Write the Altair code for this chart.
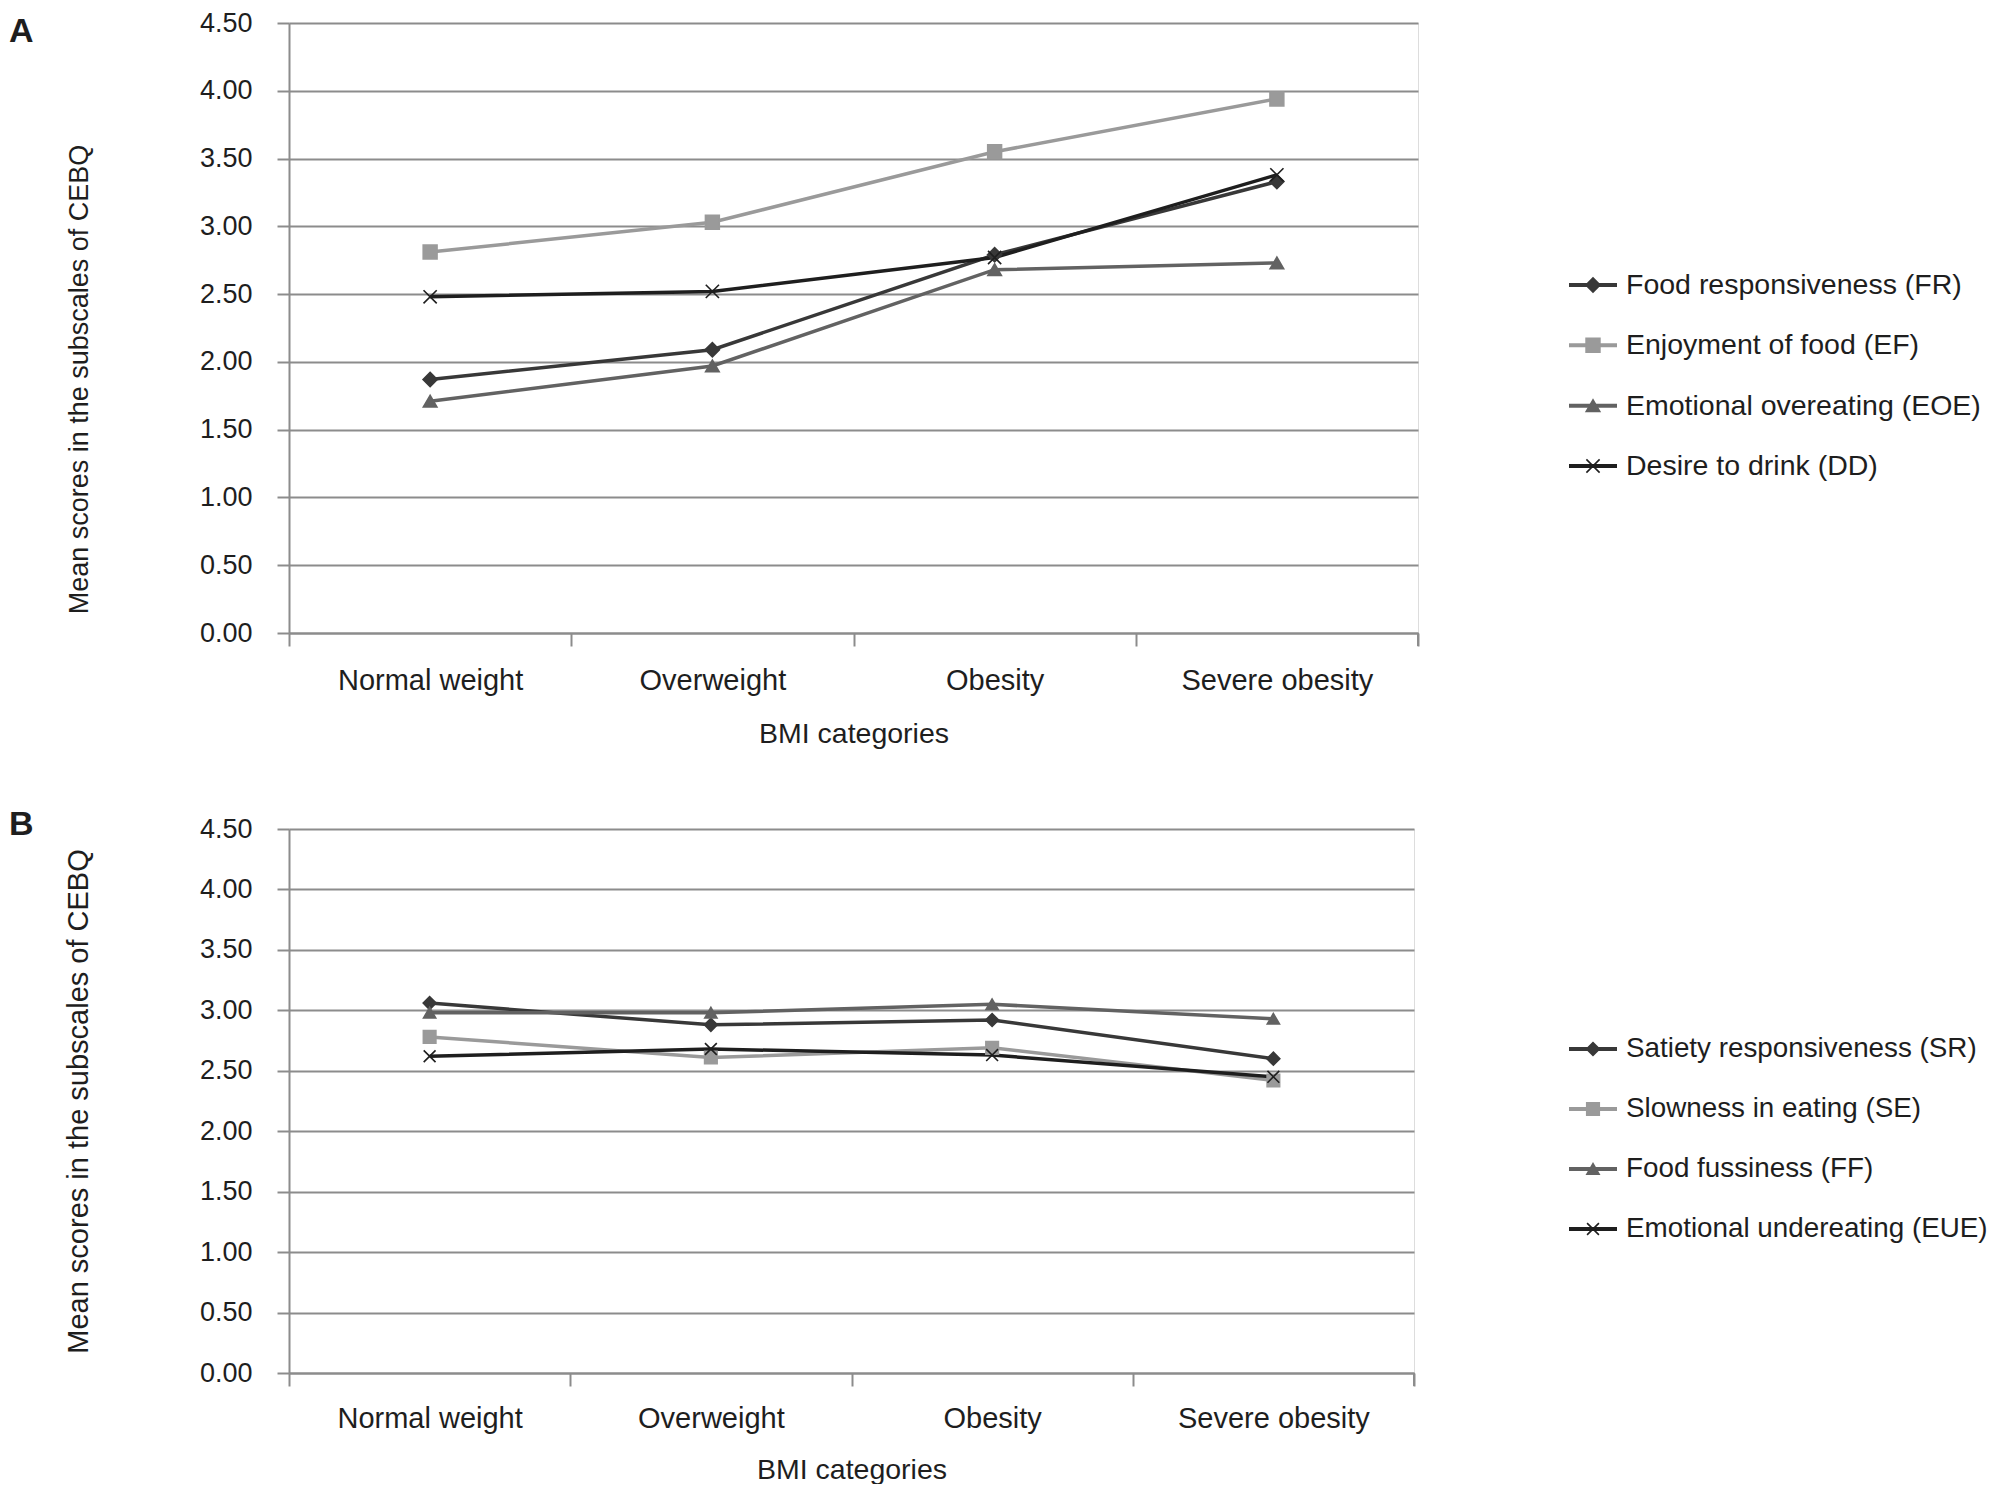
import altair as alt
import pandas as pd

# ---------------- data ----------------
categories = ["Normal weight", "Overweight", "Obesity", "Severe obesity"]

series_a = ["Food responsiveness (FR)", "Enjoyment of food (EF)",
            "Emotional overeating (EOE)", "Desire to drink (DD)"]
fr = [1.87, 2.09, 2.79, 3.33]
ef = [2.81, 3.03, 3.55, 3.94]
eoe = [1.71, 1.97, 2.68, 2.73]
dd = [2.48, 2.52, 2.77, 3.38]

series_b = ["Satiety responsiveness (SR)", "Slowness in eating (SE)",
            "Food fussiness (FF)", "Emotional undereating (EUE)"]
sr = [3.06, 2.88, 2.92, 2.60]
se = [2.78, 2.61, 2.69, 2.42]
ff = [2.98, 2.98, 3.05, 2.93]
eue = [2.62, 2.68, 2.63, 2.45]

y_ticks = [0, 0.5, 1.0, 1.5, 2.0, 2.5, 3.0, 3.5, 4.0, 4.5]
y_title = "Mean scores in the subscales of CEBQ"
x_title = "BMI categories"

# ---------------- styles ----------------
colors = ["#383838", "#9a9a9a", "#626262", "#1e1e1e"]
shapes = ["diamond", "square", "triangle-up", "M-1,-1L1,1M1,-1L-1,1"]
sizes = [200, 140, 170, 150]
gray = "#8c8c8c"
txt = "#1e1e1e"
FONT = "Liberation Sans"


def panel(series, vals, W, H, legend_range, legend_font, letter, letter_x, letter_y,
          ytitle_size, x_label_pad, x_title_pad, title_y=None):
    rows = []
    for s, v in zip(series, vals):
        for i, (c, val) in enumerate(zip(categories, v)):
            rows.append({"category": c, "series": s, "value": val, "idx": i})
    df = pd.DataFrame(rows)
    leg = pd.DataFrame({"series": series})

    color = alt.Color("series:N", scale=alt.Scale(domain=series, range=colors), legend=None)
    stroke = alt.Stroke("series:N", scale=alt.Scale(domain=series, range=colors), legend=None)
    shape = alt.Shape("series:N", scale=alt.Scale(domain=series, range=shapes), legend=None)
    size = alt.Size("series:N", scale=alt.Scale(domain=series, range=sizes), legend=None)

    xenc = alt.X(
        "category:N", sort=categories,
        scale=alt.Scale(domain=categories, paddingInner=0, paddingOuter=0),
        axis=alt.Axis(title=x_title, labelAngle=0, tickBand="extent", tickSize=13,
                      labelPadding=x_label_pad, titlePadding=x_title_pad, labelFontSize=29,
                      labelLimit=500, titleFontSize=28.5, labelColor=txt, titleColor=txt,
                      titleFontWeight="normal", domainColor=gray, domainWidth=2,
                      tickColor=gray, tickWidth=2, grid=False, labelFont=FONT,
                      titleFont=FONT),
    )
    yaxis_kw = dict(title=y_title, values=y_ticks, format=".2f", tickSize=12,
                    labelPadding=25, titlePadding=106, labelFontSize=27,
                    titleFontSize=ytitle_size, labelColor=txt, titleColor=txt,
                    titleFontWeight="normal", gridColor=gray, gridWidth=2,
                    domainColor=gray, domainWidth=2, tickColor=gray, tickWidth=2,
                    labelFont=FONT, titleFont=FONT)
    if title_y is not None:
        yaxis_kw["titleY"] = title_y
    yscale = alt.Scale(domain=[0, 4.5], nice=False, zero=True)

    lines = alt.Chart(df).mark_line(strokeWidth=3.5).encode(
        x=xenc,
        y=alt.Y("value:Q", scale=yscale, axis=alt.Axis(**yaxis_kw)),
        color=color,
        order="idx:Q",
    )
    points = alt.Chart(df).mark_point(filled=True, opacity=1, strokeWidth=1.6).encode(
        x=xenc,
        y=alt.Y("value:Q", scale=yscale, axis=None),
        color=color, stroke=stroke, shape=shape, size=size,
    )

    leg_y = alt.Y("series:N", axis=None,
                  scale=alt.Scale(type="point", domain=series, range=legend_range, padding=0))
    leg_rule = alt.Chart(leg).mark_rule(strokeWidth=4).encode(
        x=alt.value(1280), x2=alt.value(1328), y=leg_y,
        color=color,
    )
    leg_pts = alt.Chart(leg).mark_point(filled=True, opacity=1, strokeWidth=1.6).encode(
        x=alt.value(1304), y=leg_y, color=color, stroke=stroke, shape=shape, size=size,
    )
    leg_txt = alt.Chart(leg).mark_text(align="left", baseline="middle", fontSize=legend_font,
                                       color=txt, font=FONT).encode(
        x=alt.value(1337), y=leg_y, text="series:N",
    )

    letter_df = pd.DataFrame({"letter": [letter]})
    letter_mark = alt.Chart(letter_df).mark_text(
        align="left", baseline="middle", fontSize=34, fontWeight="bold",
        color=txt, font=FONT).encode(
        x=alt.value(letter_x), y=alt.value(letter_y), text="letter:N")

    end_tick = alt.Chart(letter_df).mark_rule(color=gray, strokeWidth=2).encode(
        x=alt.value(W), y=alt.value(H), y2=alt.value(H + 13))

    return alt.layer(lines, points, leg_rule, leg_pts, leg_txt, letter_mark, end_tick).resolve_scale(
        y="independent"
    ).properties(width=W, height=H)


chart_a = panel(series_a, [fr, ef, eoe, dd], W=1129, H=610,
                legend_range=[262, 443], legend_font=28.5, letter="A",
                letter_x=-280, letter_y=9, ytitle_size=27,
                x_label_pad=20, x_title_pad=24, title_y=356)
chart_b = panel(series_b, [sr, se, ff, eue], W=1125, H=544,
                legend_range=[220, 400], legend_font=27.8, letter="B",
                letter_x=-280, letter_y=-4, ytitle_size=29,
                x_label_pad=18, x_title_pad=22)

chart = alt.vconcat(chart_a, chart_b, spacing=59).properties(padding=0).configure_view(
    strokeWidth=0
).configure(font=FONT)

chart.save("out.html", embed_options={"renderer": "svg", "actions": False})
